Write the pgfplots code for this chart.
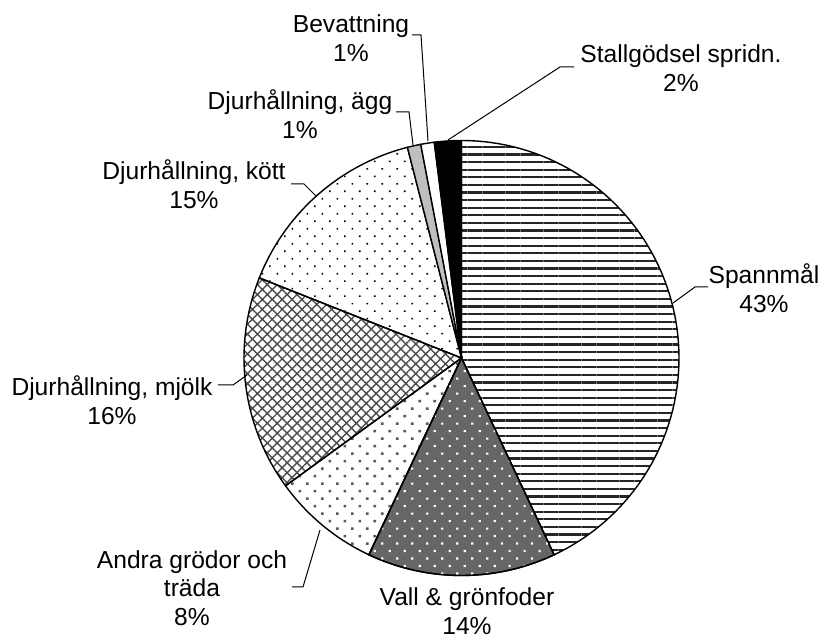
\documentclass[border=0pt]{standalone}
\usepackage{fontspec}
\setmainfont{Liberation Sans}
\usepackage{pgfplots}
\usepackage{pgfplotstable}
\pgfplotsset{compat=1.18}
\usetikzlibrary{patterns.meta}

% share of each category, clockwise from 12 o'clock
\pgfplotstableread{
value
43
14
8
16
15
1
1
2
}\piedata

\tikzset{
  slice/.style={draw=black, line width=0.7pt},
  slice0/.style={slice, pattern={Lines[angle=0,distance=3.8pt,line width=1.1pt]}, pattern color=black!85},
  slice1/.style={slice, fill=black!60, postaction={pattern={Dots[angle=45,distance=5.3pt,radius=0.75pt]}, pattern color=white}},
  slice2/.style={slice, pattern={Dots[angle=45,distance=5.3pt,radius=0.9pt]}, pattern color=black!65},
  slice3/.style={slice, pattern={Hatch[angle=45,distance=3.5pt,line width=0.7pt]}, pattern color=black!70},
  slice4/.style={slice, pattern={Dots[angle=45,distance=5.3pt,radius=0.55pt]}, pattern color=black},
  slice5/.style={slice, fill=black!25},
  slice6/.style={slice, fill=white},
  slice7/.style={slice, fill=black},
  lbl/.style={align=center, inner sep=0pt, font=\fontsize{12.3}{14.3}\selectfont},
  leader/.style={black, line width=0.5pt},
}

\begin{document}
\begin{tikzpicture}
\begin{axis}[
    width=412pt, height=320.5pt, scale only axis,
    xmin=0, xmax=824, ymin=-641, ymax=0,
    hide axis, clip=false,
]
\addplot[draw=none] coordinates {(0,0) (824,-641)};

\def\cum{0}
\pgfplotsforeachungrouped \i in {0,...,7}{%
  \pgfplotstablegetelem{\i}{value}\of\piedata
  \pgfmathsetmacro\aA{90-3.6*\cum}
  \pgfmathsetmacro\cum{\cum+\pgfplotsretval}
  \pgfmathsetmacro\aB{90-3.6*\cum}
  \edef\tmp{\noexpand\addplot[slice\i, domain=\aB:\aA, samples=80]
    ({461.5+217.5*cos(x)},{-358+217.5*sin(x)}) -- (axis cs:461.5,-358) -- cycle;}
  \tmp
}

% leader lines
\addplot[leader] coordinates {(412,-35) (421,-35) (428,-141)};
\addplot[leader] coordinates {(574,-67) (560,-67) (448,-140)};
\addplot[leader] coordinates {(396,-112) (409,-112) (413,-145)};
\addplot[leader] coordinates {(291,-184) (304,-184) (316,-196)};
\addplot[leader] coordinates {(708,-287) (695,-287) (673,-303)};
\addplot[leader] coordinates {(218,-385) (233,-385) (247,-375)};
\addplot[leader] coordinates {(292,-587) (303,-587) (320,-530)};

\node[lbl] at (axis cs:351,-38) {Bevattning\\1\%};
\node[lbl] at (axis cs:681,-68) {Stallgödsel spridn.\\2\%};
\node[lbl] at (axis cs:300,-114) {Djurhållning, ägg\\1\%};
\node[lbl] at (axis cs:194,-184) {Djurhållning, kött\\15\%};
\node[lbl] at (axis cs:764,-288) {Spannmål\\43\%};
\node[lbl] at (axis cs:112,-400) {Djurhållning, mjölk\\16\%};
\node[lbl] at (axis cs:192,-588) {Andra grödor och\\träda\\8\%};
\node[lbl] at (axis cs:467,-611) {Vall \& grönfoder\\14\%};
\end{axis}
\end{tikzpicture}
\end{document}
